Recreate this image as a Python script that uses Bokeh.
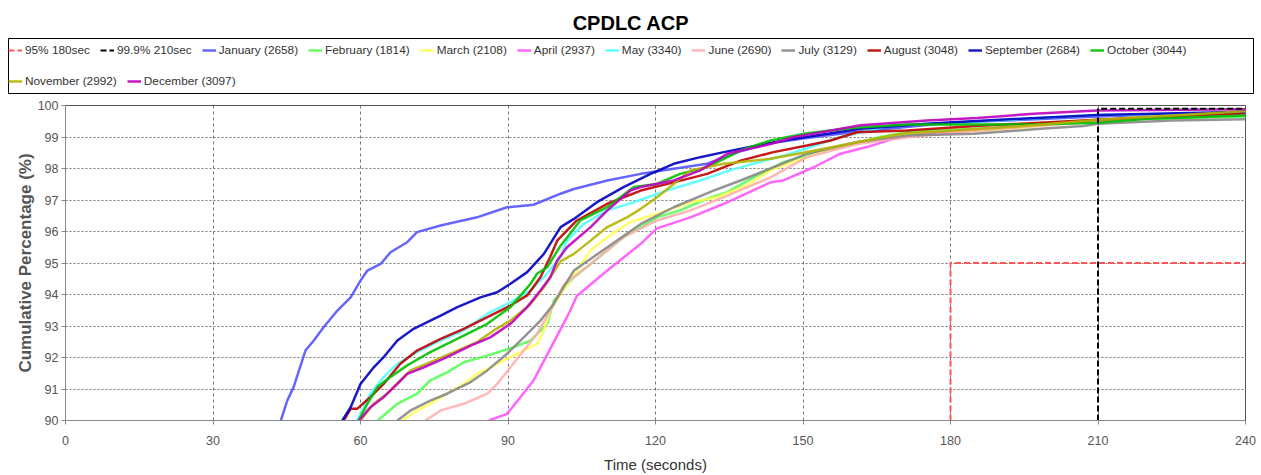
from bokeh.plotting import figure
from bokeh.models import Legend, LegendItem, Range1d
from bokeh.layouts import column
from bokeh.embed import file_html
from bokeh.resources import INLINE

# ---------------- data ----------------
jan_t = [43.8, 45.1, 46.4, 48.8, 50.5, 52.5, 55.3, 58.0, 60.0, 61.4, 64.1, 66.1, 69.5, 71.5, 76.3, 83.7, 89.8, 95.2, 100.7, 103.4, 110.2, 117.0, 123.7, 130.5, 137.3, 143.4, 150, 160, 170, 180, 195, 210, 225, 240]
jan_p = [90.0, 90.63, 91.06, 92.22, 92.54, 92.96, 93.49, 93.91, 94.44, 94.76, 94.97, 95.34, 95.66, 95.98, 96.19, 96.45, 96.77, 96.85, 97.2, 97.35, 97.62, 97.83, 97.99, 98.15, 98.55, 98.8, 98.95, 99.15, 99.3, 99.45, 99.55, 99.65, 99.72, 99.78]

feb_t = [63.5, 67.5, 71.5, 74.2, 77.6, 81.0, 85.8, 91.2, 94.6, 98.0, 99.3, 100.7, 103.4, 106.8, 110.2, 113.5, 117.0, 120.3, 125.0, 130.5, 134.6, 140.7, 143.4, 146.0, 150.8, 157.6, 165.7, 171.2, 190, 200, 220, 240]
feb_p = [90.0, 90.53, 90.85, 91.27, 91.53, 91.85, 92.06, 92.33, 92.54, 93.07, 93.8, 94.07, 94.55, 94.97, 95.4, 95.82, 96.14, 96.45, 96.67, 97.04, 97.25, 97.78, 97.99, 98.2, 98.41, 98.68, 99.0, 99.15, 99.3, 99.45, 99.58, 99.65]

mar_t = [68.5, 71.5, 74.2, 77.6, 81.0, 83.7, 86.4, 90.5, 95.9, 97.3, 98.6, 100.7, 104.0, 106.8, 110.2, 114.9, 120.3, 127.1, 132.5, 138.6, 143.4, 146.0, 154.9, 159.7, 167.8, 178, 195, 210, 240]
mar_p = [90.0, 90.32, 90.53, 90.85, 91.16, 91.48, 91.69, 92.01, 92.43, 92.86, 93.49, 94.0, 94.76, 95.4, 95.82, 96.3, 96.56, 96.93, 97.09, 97.46, 97.94, 98.1, 98.57, 98.78, 99.0, 99.1, 99.3, 99.55, 99.82]

apr_t = [86.1, 89.8, 92.5, 95.2, 98.0, 100.7, 102.7, 104.0, 110.2, 117.0, 120.3, 127.1, 133.9, 143.4, 146.0, 152.2, 157.6, 163.0, 168.4, 175, 190, 210, 240]
apr_p = [90.0, 90.21, 90.74, 91.27, 92.1, 92.9, 93.5, 93.95, 94.76, 95.61, 96.1, 96.45, 96.88, 97.56, 97.62, 98.04, 98.47, 98.68, 98.94, 99.1, 99.3, 99.55, 99.75]

may_t = [59.3, 62.0, 64.7, 67.5, 71.5, 76.3, 81.0, 85.8, 90.5, 94.6, 97.3, 100.7, 102.0, 105.4, 110.2, 115.6, 122.3, 129.1, 135.9, 143.4, 147.4, 157.6, 167.8, 180, 210, 240]
may_p = [90.0, 90.85, 91.38, 91.8, 92.17, 92.54, 92.86, 93.39, 93.76, 94.13, 94.55, 95.18, 95.71, 96.24, 96.67, 96.93, 97.3, 97.62, 97.98, 98.3, 98.47, 99.0, 99.37, 99.45, 99.7, 99.77]

jun_t = [73.2, 76.3, 81.0, 85.8, 87.8, 90.5, 93.2, 95.9, 98.6, 101.3, 106.8, 113.5, 120.3, 127.1, 133.9, 143.4, 150.8, 161.0, 171.2, 185, 210, 240]
jun_p = [90.0, 90.32, 90.53, 90.85, 91.16, 91.69, 92.22, 92.75, 93.49, 94.3, 94.97, 95.82, 96.35, 96.67, 97.09, 97.72, 98.36, 98.78, 98.99, 99.2, 99.5, 99.75]

jul_t = [67.5, 70.2, 74.2, 77.6, 82.4, 85.8, 89.8, 93.2, 96.6, 99.3, 101.3, 103.4, 110.2, 117.0, 123.7, 131.8, 137.3, 144.0, 150.8, 161.0, 171.2, 184.7, 198.3, 207, 210, 225, 240]
jul_p = [90.0, 90.32, 90.63, 90.85, 91.22, 91.59, 92.12, 92.64, 93.17, 93.7, 94.23, 94.76, 95.5, 96.24, 96.77, 97.3, 97.62, 98.04, 98.47, 98.84, 99.05, 99.1, 99.26, 99.35, 99.42, 99.52, 99.56]

aug_t = [56.6, 58.0, 59.3, 62.0, 64.7, 68.1, 71.5, 76.3, 81.0, 85.8, 90.5, 93.9, 96.6, 98.6, 100.0, 104.0, 110.2, 117.0, 123.7, 130.5, 137.3, 144.0, 150.8, 155.6, 161.0, 171.2, 185, 210, 240]
aug_p = [90.0, 90.37, 90.37, 90.74, 91.16, 91.8, 92.22, 92.59, 92.91, 93.28, 93.65, 93.97, 94.55, 95.2, 95.71, 96.35, 96.88, 97.3, 97.56, 97.83, 98.25, 98.52, 98.73, 98.89, 99.15, 99.21, 99.35, 99.55, 99.75]

sep_t = [56.3, 58.0, 60.0, 62.7, 64.7, 67.5, 70.8, 74.2, 76.3, 79.7, 84.4, 87.8, 90.5, 93.9, 97.3, 100.7, 103.4, 108.1, 113.5, 119.0, 123.7, 129.1, 133.9, 140.7, 148.0, 161.7, 175.2, 190, 210, 240]
sep_p = [90.0, 90.42, 91.16, 91.69, 92.01, 92.54, 92.91, 93.17, 93.33, 93.6, 93.91, 94.07, 94.34, 94.71, 95.29, 96.14, 96.4, 96.93, 97.41, 97.83, 98.15, 98.36, 98.52, 98.73, 98.94, 99.26, 99.42, 99.55, 99.7, 99.8]

oct_t = [59.6, 61.4, 63.4, 66.1, 69.5, 73.6, 77.6, 81.7, 85.8, 90.5, 94.6, 95.9, 98.0, 100.7, 104.7, 110.2, 115.6, 120.3, 125.0, 130.5, 137.3, 143.4, 150.8, 161.0, 171.2, 197, 210, 220, 240]
oct_p = [90.0, 90.53, 91.06, 91.38, 91.75, 92.12, 92.43, 92.75, 93.07, 93.6, 94.34, 94.66, 94.87, 95.55, 96.35, 96.77, 97.41, 97.51, 97.83, 98.04, 98.57, 98.89, 99.12, 99.3, 99.4, 99.4, 99.45, 99.58, 99.68]

nov_t = [60.0, 62.7, 65.4, 68.1, 70.2, 74.2, 79.0, 83.7, 87.1, 90.5, 94.6, 97.3, 100.7, 103.4, 106.8, 110.2, 114.2, 117.0, 120.3, 123.7, 127.1, 133.9, 143.4, 150, 160, 170, 180, 195, 210, 240]
nov_p = [90.0, 90.53, 90.85, 91.27, 91.59, 91.85, 92.17, 92.49, 92.86, 93.17, 93.7, 94.23, 95.05, 95.29, 95.71, 96.14, 96.45, 96.72, 97.09, 97.51, 97.94, 98.15, 98.31, 98.5, 98.8, 99.1, 99.2, 99.35, 99.55, 99.82]

dec_t = [59.7, 62.0, 64.7, 67.5, 69.5, 72.9, 77.6, 82.4, 86.4, 90.5, 93.9, 96.6, 98.6, 100.0, 102.0, 106.8, 110.2, 114.9, 117.0, 123.7, 129.1, 134.6, 143.4, 148.0, 161.7, 175.2, 185.4, 196.9, 209.8, 240]
dec_p = [90.0, 90.42, 90.74, 91.16, 91.48, 91.69, 92.01, 92.38, 92.64, 93.07, 93.6, 94.13, 94.55, 95.08, 95.5, 96.14, 96.67, 97.3, 97.41, 97.62, 97.94, 98.47, 98.78, 98.99, 99.37, 99.52, 99.6, 99.74, 99.84, 99.88]

ref95_t = [180, 180, 240]
ref95_p = [90, 95, 95]
ref999_t = [210, 210, 240]
ref999_p = [90, 99.9, 99.9]

series_names = ["January (2658)", "February (1814)", "March (2108)", "April (2937)", "May (3340)",
                "June (2690)", "July (3129)", "August (3048)", "September (2684)", "October (3044)",
                "November (2992)", "December (3097)"]
series_t = [jan_t, feb_t, mar_t, apr_t, may_t, jun_t, jul_t, aug_t, sep_t, oct_t, nov_t, dec_t]
series_p = [jan_p, feb_p, mar_p, apr_p, may_p, jun_p, jul_p, aug_p, sep_p, oct_p, nov_p, dec_p]
series_colors = ["#5555ff", "#55ff55", "#ffff55", "#ff55ff", "#55ffff", "#ffafaf",
                 "#888888", "#c00000", "#0000c0", "#00c000", "#b4b400", "#c000c0"]
ref_names = ["95% 180sec", "99.9% 210sec"]
ref_colors = ["#ff5555", "#000000"]

x_ticks = [0, 30, 60, 90, 120, 150, 180, 210, 240]
y_ticks = [90, 91, 92, 93, 94, 95, 96, 97, 98, 99, 100]

FONT = "Liberation Sans"
DASH = "6 3"

# ---------------- header: title + legend box ----------------
head = figure(width=1261, height=95, output_backend="svg", toolbar_location=None,
              x_range=Range1d(0, 1), y_range=Range1d(0, 1),
              x_axis_type=None, y_axis_type=None,
              min_border_left=8, min_border_right=8, min_border_top=38, min_border_bottom=2)
head.frame_align = False
head.grid.visible = False
head.outline_line_color = "#000000"
head.outline_line_width = 1
head.title.text = "CPDLC ACP"
head.title.align = "center"
head.title.text_font = FONT
head.title.text_font_size = "20px"
head.title.text_font_style = "bold"
head.title.text_color = "#000000"
head.title.standoff = 10

# legend sample glyphs (kept outside the header's visible range)
leg_r = []
for c in ref_colors:
    leg_r.append(head.line([-5, -4], [-5, -5], line_color=c, line_width=2, line_dash=DASH))
for c in series_colors:
    leg_r.append(head.line([-5, -4], [-5, -5], line_color=c, line_width=2.5, line_alpha=0.9))
labels = ref_names + series_names
row1 = [LegendItem(label=l, renderers=[r]) for l, r in zip(labels[:12], leg_r[:12])]
row2 = [LegendItem(label=l, renderers=[r]) for l, r in zip(labels[12:], leg_r[12:])]


def style(lg):
    lg.orientation = "horizontal"
    lg.label_text_font = FONT
    lg.label_text_font_size = "11.8px"
    lg.label_text_color = "#333333"
    lg.glyph_width = 14
    lg.glyph_height = 14
    lg.label_standoff = 3
    lg.label_height = 24
    lg.spacing = 10
    lg.padding = 3
    lg.margin = 0
    lg.border_line_color = None
    lg.background_fill_alpha = 0


leg1 = Legend(items=row1, location="top_left")
leg2 = Legend(items=row2, location="bottom_left")
style(leg1)
style(leg2)
head.add_layout(leg1)
head.add_layout(leg2)

# ---------------- main chart ----------------
p = figure(width=1261, height=380, output_backend="svg", toolbar_location=None,
           x_range=Range1d(0, 240), y_range=Range1d(90, 100),
           min_border_left=65, min_border_right=16, min_border_bottom=55, min_border_top=10)
p.frame_align = False

for t, v, c in zip(series_t, series_p, series_colors):
    p.line(t, v, line_color=c, line_width=2.5, line_alpha=0.9)
p.line(ref95_t, ref95_p, line_color=ref_colors[0], line_width=2, line_dash=DASH)
p.line(ref999_t, ref999_p, line_color=ref_colors[1], line_width=2, line_dash=DASH)

p.xaxis.ticker = x_ticks
p.yaxis.ticker = y_ticks
p.xaxis.axis_label = "Time (seconds)"
p.yaxis.axis_label = "Cumulative Percentage (%)"
for ax in (p.xaxis, p.yaxis):
    ax.axis_label_text_font = FONT
    ax.axis_label_text_font_size = "15px"
    ax.axis_label_text_color = "#333333"
    ax.major_label_text_font = FONT
    ax.major_label_text_font_size = "12.5px"
    ax.major_label_text_color = "#555555"
    ax.axis_line_color = "#888888"
    ax.major_tick_line_color = "#888888"
    ax.major_tick_out = 4
    ax.major_tick_in = 0
    ax.minor_tick_line_color = None
p.yaxis.axis_label_text_font_size = "17px"
p.yaxis.axis_label_text_font_style = "bold"
p.xaxis.axis_label_text_font_style = "normal"
p.yaxis.axis_label_text_color = "#555555"
p.xaxis.major_label_standoff = 11
p.yaxis.major_label_standoff = 3
p.xaxis.axis_label_standoff = 8
p.yaxis.axis_label_standoff = 0

p.xgrid.grid_line_color = "#777777"
p.xgrid.grid_line_dash = "3 3"
p.ygrid.grid_line_color = "#777777"
p.ygrid.grid_line_dash = "2 2"
p.outline_line_color = "#555555"
p.outline_line_width = 1
p.background_fill_color = "#ffffff"
p.border_fill_color = "#ffffff"

layout = column(head, p, spacing=0)
open("out.html", "w").write(file_html(layout, INLINE))
